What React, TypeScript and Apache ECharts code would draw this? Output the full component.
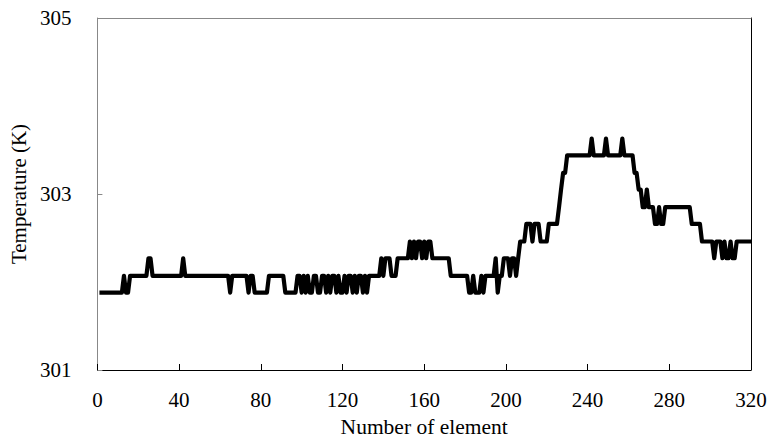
import React, { useEffect, useRef } from "react";
import * as echarts from "echarts";

// Element number (x) and temperature in K (y) at each change point of the profile
const elementNumber = [
  1, 12, 13, 14, 15, 16, 24, 25, 26, 27, 41, 42, 43, 64, 65, 66, 73, 74, 75, 76, 77, 83, 84, 91, 92, 97,
  98, 99, 100, 101, 102, 103, 104, 105, 106, 107, 108, 109, 110, 111, 112, 113, 114, 115, 116, 117, 118,
  119, 120, 121, 122, 123, 124, 125, 126, 127, 128, 129, 130, 131, 132, 133, 138,
  139, 140, 141, 143, 144, 146, 147, 152, 153, 154, 155, 156, 157, 158, 159, 160, 161, 162, 163, 164,
  172, 173, 181, 182, 183, 184, 185, 186, 187, 188, 189, 190, 194, 195, 196, 197, 198, 199, 201, 202,
  203, 204, 205, 206, 207, 209, 210, 212, 213, 214, 216, 217, 220, 221, 225, 226, 227, 228, 229, 230,
  241, 242, 243, 248, 249, 250, 256, 257, 258, 262, 263, 264, 265, 266, 267, 268, 269, 270, 272, 273,
  274, 275, 276, 277, 278, 290, 291, 295, 296, 301, 302, 303, 305, 306, 307, 308, 309, 310, 311, 312,
  313, 314, 320,
];

const temperatureK = [
  301.88, 301.88, 302.07, 301.88, 301.88, 302.07, 302.07, 302.27, 302.27, 302.07, 302.07, 302.27, 302.07,
  302.07, 301.88, 302.07, 302.07, 301.88, 302.07, 302.07, 301.88, 301.88, 302.07, 302.07, 301.88, 301.88,
  302.07, 302.07, 301.88, 302.07, 301.88, 302.07, 301.88, 301.88, 302.07, 302.07, 301.88, 301.88, 302.07,
  302.07, 301.88, 302.07, 301.88, 302.07, 302.07, 301.88, 302.07, 301.88, 301.88, 302.07, 301.88, 302.07,
  302.07, 301.88, 302.07, 301.88, 302.07, 302.07, 301.88, 302.07, 301.88, 302.07, 302.07,
  302.27, 302.07, 302.27, 302.27, 302.07, 302.07, 302.27, 302.27, 302.46, 302.27, 302.46, 302.27, 302.46,
  302.46, 302.27, 302.46, 302.27, 302.46, 302.46, 302.27,
  302.27, 302.07, 302.07, 301.88, 301.88, 302.07, 301.88, 301.88, 301.88, 302.07, 301.88, 302.07, 302.07,
  302.27, 301.88, 302.07, 302.07, 302.27, 302.27, 302.07,
  302.27, 302.27, 302.07, 302.27, 302.46, 302.46, 302.66, 302.66, 302.46, 302.66, 302.66, 302.46, 302.46,
  302.66, 302.66, 302.85, 303.05, 303.24, 303.24, 303.44,
  303.44, 303.63, 303.44, 303.44, 303.63, 303.44, 303.44, 303.63, 303.44, 303.44, 303.24, 303.24, 303.05,
  303.05, 302.85, 302.85, 303.05, 302.85, 302.85, 302.66,
  302.66, 302.85, 302.66, 302.66, 302.85, 302.85, 302.66, 302.66, 302.46, 302.46, 302.27, 302.46, 302.46,
  302.27, 302.46, 302.27, 302.27, 302.46, 302.27, 302.27,
  302.46, 302.46, 302.46,
];

const xTickLabels = [0, 40, 80, 120, 160, 200, 240, 280, 320];
const yTickLabels = [301, 303, 305];

const FONT = "'Liberation Serif', 'DejaVu Serif', serif";

export default function App() {
  const ref = useRef<HTMLDivElement>(null);

  useEffect(() => {
    document.body.style.margin = "0";
    if (!ref.current) return;
    const chart = echarts.init(ref.current, undefined, { renderer: "svg" });
    const data = elementNumber.map((x, i) => [x, temperatureK[i]]);
    const xMin = xTickLabels[0];
    const xMax = xTickLabels[xTickLabels.length - 1];
    const xInt = xTickLabels[1] - xTickLabels[0];
    const yMin = yTickLabels[0];
    const yMax = yTickLabels[yTickLabels.length - 1];
    const yInt = yTickLabels[1] - yTickLabels[0];

    chart.setOption({
      animation: false,
      backgroundColor: "#ffffff",
      grid: { left: 97, right: 20, top: 18, bottom: 73, containLabel: false },
      xAxis: [
        {
          type: "value",
          min: xMin,
          max: xMax,
          interval: xInt,
          position: "bottom",
          name: "Number of element",
          nameLocation: "middle",
          nameGap: 46,
          nameTextStyle: { fontFamily: FONT, fontSize: 21.5, color: "#000" },
          axisLine: { show: true, onZero: false, lineStyle: { color: "#000", width: 1 } },
          axisTick: { show: true, inside: true, length: 6, lineStyle: { color: "#000" } },
          axisLabel: { margin: 19, fontFamily: FONT, fontSize: 21, color: "#000" },
          splitLine: { show: false },
        },
        {
          type: "value",
          min: xMin,
          max: xMax,
          position: "top",
          axisLine: { show: true, onZero: false, lineStyle: { color: "#888", width: 1 } },
          axisTick: { show: false },
          axisLabel: { show: false },
          splitLine: { show: false },
        },
      ],
      yAxis: [
        {
          type: "value",
          min: yMin,
          max: yMax,
          interval: yInt,
          position: "left",
          name: "Temperature (K)",
          nameLocation: "middle",
          nameGap: 61,
          nameRotate: 90,
          nameTextStyle: { fontFamily: FONT, fontSize: 21, color: "#000" },
          axisLine: { show: true, onZero: false, lineStyle: { color: "#888", width: 1 } },
          axisTick: { show: true, inside: true, length: 5, lineStyle: { color: "#888" } },
          axisLabel: { margin: 26, fontFamily: FONT, fontSize: 21, color: "#000" },
          splitLine: { show: false },
        },
        {
          type: "value",
          min: yMin,
          max: yMax,
          position: "right",
          axisLine: { show: true, onZero: false, lineStyle: { color: "#000", width: 1 } },
          axisTick: { show: false },
          axisLabel: { show: false },
          splitLine: { show: false },
        },
      ],
      series: [
        {
          type: "line",
          xAxisIndex: 0,
          yAxisIndex: 0,
          data,
          showSymbol: false,
          symbol: "none",
          lineStyle: { color: "#000", width: 4.2, join: "round", cap: "butt" },
        },
      ],
    });

    return () => chart.dispose();
  }, []);

  return <div ref={ref} style={{ width: 771, height: 443 }} />;
}
